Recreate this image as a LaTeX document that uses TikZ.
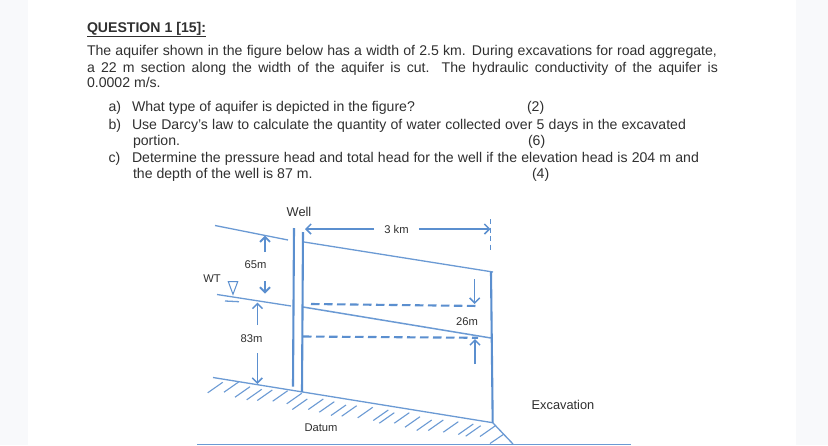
\documentclass[tikz,border=0pt]{standalone}
\usepackage{fontspec}
\setmainfont{Liberation Sans}
\usetikzlibrary{arrows.meta}
\definecolor{aquiferblue}{HTML}{5B8FCF}
\definecolor{inktext}{HTML}{303030}
\definecolor{pagegrey}{HTML}{F8F9FB}
\tikzset{
  textline/.style={anchor=base west,inner sep=0pt,outer sep=0pt,text=inktext,font=\fontsize{14.1}{16}\selectfont},
  figlabel/.style={inner sep=0pt,text=inktext,font=\fontsize{11.2}{13}\selectfont},
  biglabel/.style={inner sep=0pt,text=inktext,font=\fontsize{12.8}{14}\selectfont},
  thinline/.style={draw=aquiferblue!90,line width=1.3pt},
  wall/.style={draw=aquiferblue,line width=2.1pt},
  dashline/.style={draw=aquiferblue,line width=2.1pt,dash pattern=on 8.5pt off 4.5pt},
  dimarrow/.style={draw=aquiferblue,line width=1.5pt,-{Straight Barb[length=5pt,width=10pt]}},
  hatchline/.style={draw=aquiferblue!90,line width=1.1pt},
}
\begin{document}
\begin{tikzpicture}[x=1pt,y=-1pt]
\useasboundingbox (0,0) rectangle (828,445);
% Page
\fill[pagegrey] (0,0) rectangle (828,445);
\fill[white] (28,0) rectangle (796,445);
% Question text
\node[textline] (title) at (87,32) {\underline{\textbf{QUESTION 1 [15]:}}};
\node[textline] (line-one) at (87,55.7) {\makebox[630pt][s]{The aquifer shown in the figure below has a width of 2.5 km. During excavations for road aggregate,}};
\node[textline] (line-two) at (87,72) {\makebox[631pt][s]{a 22 m section along the width of the aquifer is cut. The hydraulic conductivity of the aquifer is}};
\node[textline] (line-three) at (87,87.7) {0.0002 m/s.};
\node[textline] (item-a) at (108.5,111.7) {a)};
\node[textline] (text-a) at (132,111.7) {What type of aquifer is depicted in the figure?};
\node[textline] (mark-a) at (527,111.7) {(2)};
\node[textline] (item-b) at (108.5,129.3) {b)};
\node[textline] (text-b) at (132,129.3) {\makebox[554pt][s]{Use Darcy's law to calculate the quantity of water collected over 5 days in the excavated}};
\node[textline] (text-b-two) at (133,145.3) {portion.};
\node[textline] (mark-b) at (528,145.3) {(6)};
\node[textline] (item-c) at (108.5,162.3) {c)};
\node[textline] (text-c) at (132,162.3) {\makebox[567pt][s]{Determine the pressure head and total head for the well if the elevation head is 204 m and}};
\node[textline] (text-c-two) at (133,178.3) {the depth of the well is 87 m.};
\node[textline] (mark-c) at (532,178.3) {(4)};
% Coordinates
\coordinate (top-left) at (215,225.5);
\coordinate (top-left-end) at (288,240);
\coordinate (top-right-start) at (304,242);
\coordinate (top-right) at (493,272);
\coordinate (wt-left) at (217,294.5);
\coordinate (wt-left-end) at (291,306);
\coordinate (wt-right-start) at (303,307);
\coordinate (wt-right) at (491,338);
\coordinate (well-a-top) at (294,228);
\coordinate (well-a-bottom) at (293,386.5);
\coordinate (well-b-top) at (303,232);
\coordinate (well-b-bottom) at (302,392);
\coordinate (wall-top) at (491,272);
\coordinate (wall-bottom) at (492.7,422.7);
\coordinate (datum-left) at (213,377.5);
\coordinate (slope-bottom) at (513,444);
\coordinate (base-left) at (197,444.2);
\coordinate (base-right) at (631,444.2);
% Labels
\node[biglabel] (well) at (299,211.6) {Well};
\node[figlabel] (width) at (396.5,229.5) {3 km};
\node[figlabel] (upper-depth) at (255.5,264.6) {65m};
\node[figlabel] (wt) at (212,278.6) {WT};
\node[figlabel] (lower-depth) at (251.5,338.6) {83m};
\node[figlabel] (drop) at (467,321.6) {26m};
\node[figlabel] (datum) at (321,427.8) {Datum};
\node[biglabel] (excavation) at (563,404.8) {Excavation};
% Ground and water lines
\draw[thinline] (top-left) -- (top-left-end);
\draw[thinline] (top-right-start) -- (top-right);
\draw[thinline] (wt-left) -- (wt-left-end);
\draw[thinline,line width=1.5pt] (wt-right-start) -- (wt-right);
\draw[thinline] (datum-left) -- (wall-bottom) -- (slope-bottom);
\draw[thinline] (base-left) -- (base-right);
% Well and excavation wall
\draw[wall] (well-a-top) -- (well-a-bottom);
\draw[wall] (well-b-top) -- (well-b-bottom);
\draw[wall] (wall-top) -- (wall-bottom);
% Dashed levels
\draw[dashline] (311,304) -- (479,306);
\draw[dashline] (303,336.5) -- (478,337.8);
\draw[draw=aquiferblue,line width=1.4pt,dash pattern=on 5pt off 3.5pt] (490.7,219) -- (490.7,252);
% Water table symbol
\draw[draw=aquiferblue,line width=1pt] (228.3,281.7) -- (237.7,281.7) -- (233,294.3) -- cycle;
\draw[thinline] (225,301) -- (239,301.7);
% Dimension arrows
\draw[dimarrow] (width.west) ++(-10,-0.5) -- (305,229);
\draw[dimarrow] (width.east) ++(10,-0.5) -- (490.5,229);
\draw[dimarrow,line width=1.8pt] (265,252) -- (265,235.7);
\draw[dimarrow,line width=1.8pt] (265,281) -- (265,293.5);
\draw[dimarrow] (257.5,325) -- (257.5,302.5);
\draw[dimarrow] (257.3,353) -- (257.3,384);
\draw[dimarrow] (474.7,279) -- (474.7,304);
\draw[dimarrow] (475,364) -- (475,339);
% Hatching
\foreach \hx/\hy in {222.7/382.3, 239/381.7, 250/386.7, 261.7/389.3, 272.3/390, 287.7/390.7, 301.7/393.3, 307.3/399, 323.3/399, 334.3/401.7, 346/405, 356.7/405.7, 372.7/407.3, 388.3/410, 394.3/412.7, 409.3/412.7, 420/416.7, 431.7/420, 443.3/420, 458.3/421.7, 473.3/424, 480.7/425.7, 495/426}
  \draw[hatchline] (\hx,\hy) -- ++(-15,10.5);
\draw[hatchline] (504,434) -- (490,443.5);
\end{tikzpicture}
\end{document}
